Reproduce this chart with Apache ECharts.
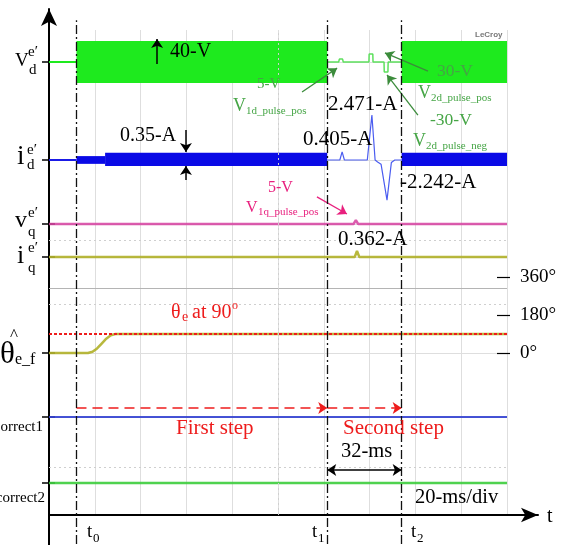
<!DOCTYPE html>
<html>
<head>
<meta charset="utf-8">
<script src="https://cdn.jsdelivr.net/npm/echarts@6/dist/echarts.min.js"></script>
<style>
html, body { margin: 0; padding: 0; background: #fff; }
#box { width: 569px; height: 545px; }
</style>
</head>
<body>
<div id="box"></div>
<script>
// time in ms (20 ms/div), levels in scope divisions (0 = bottom of screen)
const tMarks = [12, 121.5, 154];
const tNames = ['0', '1', '2'];

// v_d^e'
const vdIdle = [[0, 14.01], [12, 14.01]];
const vdBand1 = [[12, 14.66], [121.5, 14.66]];
const vdBand2 = [[154, 14.66], [200, 14.66]];
const vdBandLow = 13.36;
const vdPulses = [[121.5, 14.01], [126.5, 14.01], [126.8, 14.1], [128.2, 14.1], [128.5, 14.01],
  [139.7, 14.01], [139.8, 14.26], [141.4, 14.26], [141.5, 14.01],
  [146.3, 14.01], [146.4, 13.70], [148.0, 13.70], [148.1, 14.01], [154, 14.01]];

// i_d^e'
const idIdle = [[0, 10.98], [12, 10.98]];
const idBandThin = [[12, 11.10], [24.5, 11.10]];
const idBandThinLow = 10.86;
const idBand1 = [[24.5, 11.20], [121.5, 11.20]];
const idBand2 = [[154, 11.20], [200, 11.20]];
const idBandLow = 10.79;
const idPulses = [[121.5, 10.98], [127, 10.98], [128, 11.23], [129, 10.98], [139, 10.98],
  [141, 12.37], [142.4, 10.98], [143.5, 10.92], [145, 10.85], [147.6, 9.74],
  [149.5, 10.9], [151, 10.98], [154, 10.98]];

// v_q^e', i_q^e'
const vq = [[0, 9.0], [133, 9.0], [134, 9.12], [135, 9.0], [200, 9.0]];
const iq = [[0, 7.98], [133.5, 7.98], [134.5, 8.17], [135.5, 7.98], [200, 7.98]];

// theta_e_f in degrees
const theta = [[0, 0], [17, 0], [19, 6], [21, 22], [23, 45], [25, 68], [27, 84], [29, 90], [200, 90]];
const thetaRef = 90;
const thetaTicks = [0, 180, 360];

// correct flags
const correct1 = [[0, 3.03], [200, 3.03]];
const correct2 = [[0, 0.99], [200, 0.99]];

const leftTicks = [14.01, 10.98, 9.0, 7.98, 5.01, 3.03, 0.99];
// dotted centre graticule lines of the scope screens
const centreRows = [8.5, 6.53, 1.48];
const centreCol = 100;

const serif = 'Liberation Serif, Times New Roman, serif';
const green = '#1eea1e';
const annGreen = '#45a545';
const pink = '#e8207e';
const red = '#ee1c1c';

function txt(x, base, str, size, color, align) {
  return {
    type: 'text', x: x, y: base - 0.3375 * size, z: 100,
    style: { text: str, fontSize: size, fontFamily: serif, fill: color || '#000',
      align: align || 'left', verticalAlign: 'middle' }
  };
}

function band(seg, low, color) {
  return {
    type: 'line', xAxisIndex: 0, yAxisIndex: 0, data: seg, symbol: 'none', z: 3,
    lineStyle: { width: 0, opacity: 0 },
    areaStyle: { color: color, opacity: 1, origin: low }
  };
}

function trace(data, color, width, yIdx) {
  return {
    type: 'line', xAxisIndex: 0, yAxisIndex: yIdx || 0, data: data, symbol: 'none', z: 4,
    lineStyle: { color: color, width: width }
  };
}

function arrow(a, b, color, width, both, dash) {
  return [
    { coord: a, symbol: both ? 'arrow' : 'none', symbolSize: 9,
      lineStyle: { color: color, width: width, type: dash || 'solid' } },
    { coord: b, symbol: 'arrow', symbolSize: 9 }
  ];
}

let myChart = echarts.init(document.getElementById('box'));

let graphics = [
  // left trace names
  txt(15, 67, 'V', 19), txt(28, 57, 'e\u2032', 15), txt(29, 75, 'd', 15),
  txt(17, 166, 'i', 27), txt(27, 155, 'e\u2032', 15), txt(27, 170, 'd', 15),
  txt(15, 229, 'v', 24), txt(28, 218, 'e\u2032', 15), txt(28, 237, 'q', 15),
  txt(17, 265, 'i', 26), txt(28, 253, 'e\u2032', 15), txt(28, 273, 'q', 15),
  txt(10, 341, '^', 17), txt(0, 365, '\u03b8', 31), txt(15, 365, 'e_f', 16),
  txt(43, 432, 'correct1', 15, '#000', 'right'),
  txt(45, 503, 'correct2', 15, '#000', 'right'),
  // annotations
  txt(170, 58, '40-V', 20),
  txt(120, 142, '0.35-A', 20),
  txt(257, 89, '5-V', 15, annGreen),
  txt(233, 112, 'V', 18, annGreen), txt(246, 115, '1d_pulse_pos', 11, annGreen),
  txt(328, 112, '2.471-A', 21),
  txt(303, 147, '0.405-A', 21),
  txt(437, 77, '30-V', 17.5, annGreen),
  txt(418, 99, 'V', 18, annGreen), txt(431, 102, '2d_pulse_pos', 11, annGreen),
  txt(430, 126, '-30-V', 17.5, annGreen),
  txt(413, 147, 'V', 18, annGreen), txt(426, 150, '2d_pulse_neg', 11, annGreen),
  txt(400, 190, '-2.242-A', 21),
  txt(268, 193, '5-V', 16, pink),
  txt(246, 213, 'V', 16, pink), txt(258, 216, '1q_pulse_pos', 11, pink),
  txt(338, 247, '0.362-A', 21),
  txt(171, 319, '\u03b8', 20, red), txt(182, 322, 'e', 14, red),
  txt(187, 319, ' at 90', 20, red), txt(232, 310, 'o', 12, red),
  txt(176, 436, 'First step', 21, red),
  txt(343, 436, 'Second step', 21, red),
  txt(341, 459, '32-ms', 20.5),
  txt(415, 505, '20-ms/div', 20.5),
  txt(547, 523, 't', 20),
  { type: 'text', x: 475, y: 31, z: 100,
    style: { text: 'LeCroy', fontSize: 8, fontWeight: 'bold', fontFamily: 'Liberation Sans, Arial',
      fill: '#777' } }
];
tMarks.forEach(function (t, i) {
  let px = [87, 312, 411][i];
  graphics.push(txt(px, 538, 't', 19), txt(px + 6, 543, tNames[i], 13));
});

let option = {
  animation: false,
  backgroundColor: '#fff',
  grid: [
    { left: 49, right: 62, top: 30, bottom: 30, outerBoundsMode: 'none' },
    { left: 49, right: 31, top: 9, bottom: 0, outerBoundsMode: 'none' }
  ],
  xAxis: [
    { gridIndex: 0, type: 'value', min: 0, max: 200, interval: 20,
      axisLine: { show: false }, axisTick: { show: false }, axisLabel: { show: false },
      splitLine: { show: true, lineStyle: { color: '#dedede', width: 1 } } },
    { gridIndex: 1, type: 'value', min: 0, max: 213.5,
      axisLine: { show: true, onZero: true, symbol: ['none', 'arrow'], symbolSize: [11, 17],
        lineStyle: { color: '#000', width: 2 } },
      axisTick: { show: false }, axisLabel: { show: false }, splitLine: { show: false } }
  ],
  yAxis: [
    { gridIndex: 0, type: 'value', min: 0, max: 15, interval: 1,
      axisLine: { show: false },
      axisTick: { show: true, inside: true, length: 6, customValues: leftTicks,
        lineStyle: { color: '#000', width: 1.5 } },
      axisLabel: { show: false },
      splitLine: { show: true, showMaxLine: false, lineStyle: { color: '#dedede', width: 1 } } },
    { gridIndex: 0, type: 'value', position: 'right', offset: 3, min: -767, max: 1530,
      axisLine: { show: false },
      axisTick: { show: true, inside: true, length: 13, customValues: thetaTicks,
        lineStyle: { color: '#000', width: 1.2 } },
      axisLabel: { show: true, customValues: thetaTicks, margin: 10, fontSize: 19,
        fontFamily: serif, color: '#000',
        formatter: function (v) { return v + '\u00b0'; } },
      splitLine: { show: false } },
    { gridIndex: 1, type: 'value', min: -0.928, max: 15.65,
      axisLine: { show: true, onZero: true, symbol: ['none', 'arrow'], symbolSize: [12, 17],
        lineStyle: { color: '#000', width: 2 } },
      axisTick: { show: true, inside: false, length: 7, customValues: leftTicks,
        lineStyle: { color: '#000', width: 1.5 } },
      axisLabel: { show: false }, splitLine: { show: false } }
  ],
  graphic: graphics,
  series: [
    // screenshot divider + dotted centre lines
    { type: 'line', xAxisIndex: 0, yAxisIndex: 0, data: [], z: 2,
      markLine: { silent: true, symbol: 'none', label: { show: false },
        lineStyle: { color: '#cfcfcf', width: 1, type: [2, 3] },
        data: [
          [{ coord: [0, 7.02], lineStyle: { color: '#b4b4b4', type: 'solid' } }, { coord: [200, 7.02] }],
          [{ coord: [centreCol, 0] }, { coord: [centreCol, 14.9] }]
        ].concat(centreRows.map(function (r) { return [{ coord: [0, r] }, { coord: [200, r] }]; })) } },
    trace(vdIdle, green, 2),
    band(vdBand1, vdBandLow, green),
    band(vdBand2, vdBandLow, green),
    trace(vdPulses, '#5ee05e', 1.5),
    trace(idIdle, '#1a1ae6', 2),
    band(idBandThin, idBandThinLow, '#0a0ae6'),
    band(idBand1, idBandLow, '#0a0ae6'),
    band(idBand2, idBandLow, '#0a0ae6'),
    trace(idPulses, '#4a5cf0', 1.2),
    trace(vq, 'rgba(214,64,160,0.85)', 2.5),
    trace(iq, 'rgba(176,176,40,0.9)', 2.5),
    Object.assign(trace(theta, 'rgba(176,176,40,0.9)', 2.5, 1), {
      markLine: { silent: true, symbol: 'none', label: { show: false },
        lineStyle: { color: red, width: 2, type: [3, 2] },
        data: [[{ coord: [0, thetaRef] }, { coord: [200, thetaRef] }]] } }),
    trace(correct1, 'rgba(50,64,210,0.9)', 2),
    trace(correct2, 'rgba(60,205,60,0.9)', 2.5),
    // annotation arrows
    { type: 'line', xAxisIndex: 0, yAxisIndex: 0, data: [], z: 6,
      markLine: { silent: true, label: { show: false }, symbolSize: 9,
        data: [
          arrow([47.2, 13.95], [47.2, 14.72], '#000', 1.5),
          arrow([59.8, 11.91], [59.8, 11.23], '#000', 1.5),
          arrow([59.8, 10.36], [59.8, 10.79], '#000', 1.5),
          arrow([110.5, 13.08], [125.8, 13.82], '#3c8c3c', 1.3),
          arrow([165.5, 13.73], [146.7, 14.29], '#3c8c3c', 1.3),
          arrow([161.1, 12.37], [147.6, 13.61], '#3c8c3c', 1.3),
          arrow([117.0, 9.84], [130.1, 9.31], pink, 1.3),
          arrow([12, 3.31], [121.5, 3.31], red, 1.5, false, [10, 6]),
          arrow([121.5, 3.31], [154, 3.31], red, 1.5, false, [10, 6]),
          arrow([121.5, 1.39], [154, 1.39], '#000', 1.5, true)
        ] } },
    // time markers
    { type: 'line', xAxisIndex: 1, yAxisIndex: 2, data: [], z: 7,
      markLine: { silent: true, symbol: 'none', label: { show: false },
        lineStyle: { color: '#111', width: 1.3, type: [9, 3, 2, 3] },
        data: tMarks.map(function (t) { return [{ coord: [t, -0.9] }, { coord: [t, 15.3] }]; }) } }
  ]
};
myChart.setOption(option);
</script>
</body>
</html>
